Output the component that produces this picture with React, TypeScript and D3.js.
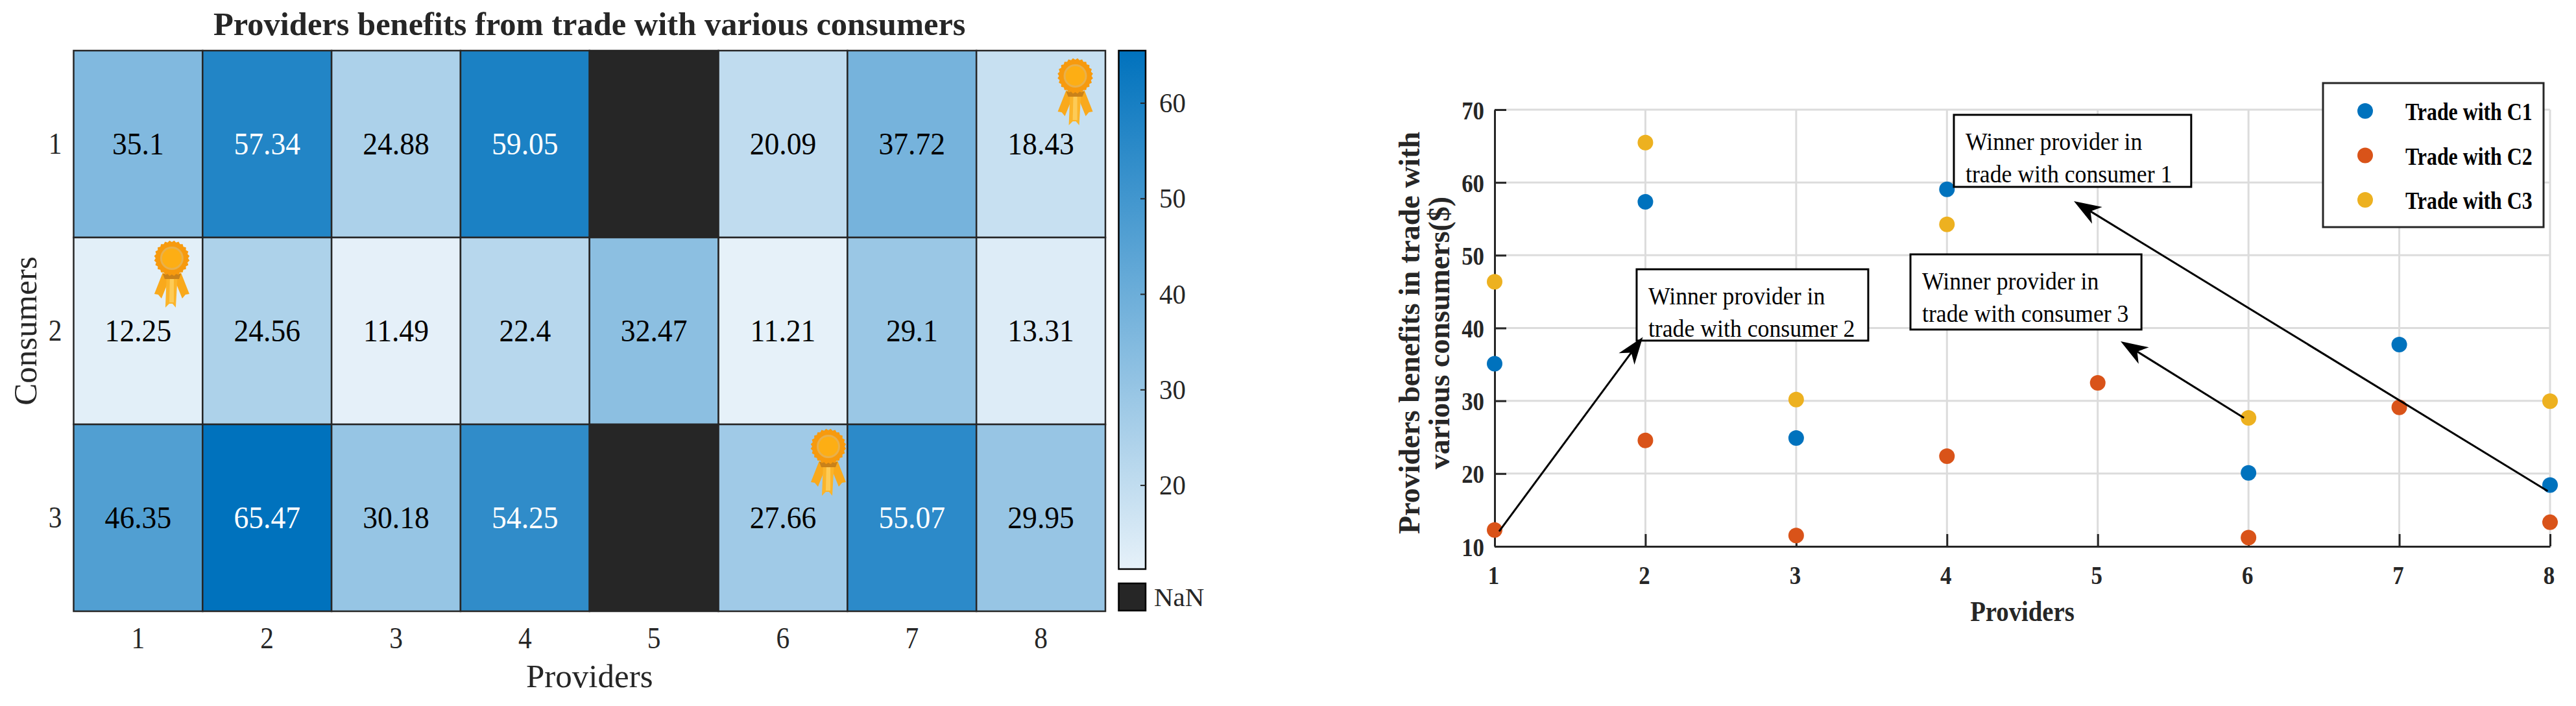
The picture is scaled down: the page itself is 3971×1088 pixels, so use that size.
import React, { useEffect, useRef } from 'react';
import * as d3 from 'd3';

const providers = [1, 2, 3, 4, 5, 6, 7, 8];
const consumers = [1, 2, 3];

const tradeC1 = [35.1, 57.34, 24.88, 59.05, NaN, 20.09, 37.72, 18.43];
const tradeC2 = [12.25, 24.56, 11.49, 22.4, 32.47, 11.21, 29.1, 13.31];
const tradeC3 = [46.35, 65.47, 30.18, 54.25, NaN, 27.66, 55.07, 29.95];
const seriesValues = [tradeC1, tradeC2, tradeC3];

const seriesNames = ['Trade with C1', 'Trade with C2', 'Trade with C3'];
const seriesColors = ['#0072BD', '#D95319', '#EDB120'];

const colorbarTicks = [20, 30, 40, 50, 60];
const scatterYTicks = [10, 20, 30, 40, 50, 60, 70];

const winnerCells = [
  { provider: 8, consumer: 1 },
  { provider: 1, consumer: 2 },
  { provider: 6, consumer: 3 },
];

const winnerNotes = [
  { lines: ['Winner provider in', 'trade with consumer 2'], x0: 1.942, x1: 3.478, y0: 48.07, y1: 38.27 },
  { lines: ['Winner provider in', 'trade with consumer 3'], x0: 3.758, x1: 5.29, y0: 50.12, y1: 39.79 },
  { lines: ['Winner provider in', 'trade with consumer 1'], x0: 4.046, x1: 5.62, y0: 69.29, y1: 59.39 },
];

const winnerArrows = [
  { from: [1.03, 12.07], to: [1.983, 38.76] },
  { from: [5.97, 27.66], to: [5.152, 38.18] },
  { from: [7.984, 17.6], to: [4.842, 57.43] },
];

const FONT = '"Liberation Serif", "Times New Roman", serif';
const DARK = '#262626';

// the reference text is a bit narrower than the font, so squeeze it sideways
const squeeze = (sel: any, factor: number) => {
  sel.each(function (this: SVGTextElement) {
    this.setAttribute('textLength', String(this.getComputedTextLength() * factor));
    this.setAttribute('lengthAdjust', 'spacingAndGlyphs');
  });
};

const App: React.FC = () => {
  const svgRef = useRef<SVGSVGElement | null>(null);

  useEffect(() => {
    const svg = d3.select(svgRef.current);
    svg.selectAll('*').remove();
    svg.attr('font-family', FONT);

    // ---------- heatmap ----------
    const hm = { left: 113.5, right: 1704, top: 78, bottom: 942 };
    const x = d3.scaleBand<number>().domain(providers).range([hm.left, hm.right]);
    const y = d3.scaleBand<number>().domain(consumers).range([hm.top, hm.bottom]);
    const color = d3.scaleLinear<string>().domain([11.21, 65.47]).range(['#E6F1F9', '#0072BD']);

    const heat = svg.append('g');
    const cells = consumers.flatMap((c, i) =>
      providers.map((p, j) => ({ p, c, v: seriesValues[i][j] }))
    );

    heat
      .selectAll('rect')
      .data(cells)
      .join('rect')
      .attr('x', (d) => x(d.p)!)
      .attr('y', (d) => y(d.c)!)
      .attr('width', x.bandwidth())
      .attr('height', y.bandwidth())
      .attr('fill', (d) => (isNaN(d.v) ? DARK : color(d.v)))
      .attr('stroke', DARK)
      .attr('stroke-width', 2.5);

    const cellText = heat
      .selectAll('text')
      .data(cells.filter((d) => !isNaN(d.v)))
      .join('text')
      .attr('x', (d) => x(d.p)! + x.bandwidth() / 2)
      .attr('y', (d) => y(d.c)! + y.bandwidth() / 2 + 16)
      .attr('text-anchor', 'middle')
      .attr('font-size', 48)
      .attr('fill', (d) => (d.v > 50 ? '#fff' : '#000'))
      .text((d) => String(d.v));
    squeeze(cellText, 0.95);

    const hmXAxis = svg
      .append('g')
      .attr('transform', `translate(0,${hm.bottom})`)
      .call(d3.axisBottom(x).tickSize(0));
    hmXAxis.select('.domain').remove();
    hmXAxis
      .selectAll('text')
      .attr('y', 57)
      .attr('dy', 0)
      .attr('font-size', 46)
      .attr('font-family', FONT)
      .attr('fill', DARK);
    squeeze(hmXAxis.selectAll('text'), 0.9);

    const hmYAxis = svg
      .append('g')
      .attr('transform', `translate(${hm.left},0)`)
      .call(d3.axisLeft(y).tickSize(0).tickPadding(18));
    hmYAxis.select('.domain').remove();
    hmYAxis
      .selectAll('text')
      .attr('dy', 15)
      .attr('font-size', 46)
      .attr('font-family', FONT)
      .attr('fill', DARK);
    squeeze(hmYAxis.selectAll('text'), 0.9);

    svg
      .append('text')
      .attr('x', (hm.left + hm.right) / 2)
      .attr('y', 54)
      .attr('text-anchor', 'middle')
      .attr('font-size', 50.5)
      .attr('font-weight', 'bold')
      .attr('fill', DARK)
      .text('Providers benefits from trade with various consumers');

    svg
      .append('text')
      .attr('x', (hm.left + hm.right) / 2)
      .attr('y', 1059)
      .attr('text-anchor', 'middle')
      .attr('font-size', 51)
      .attr('fill', DARK)
      .text('Providers');

    svg
      .append('text')
      .attr('transform', `translate(56,${(hm.top + hm.bottom) / 2}) rotate(-90)`)
      .attr('text-anchor', 'middle')
      .attr('font-size', 51)
      .attr('fill', DARK)
      .text('Consumers');

    // medals sit in the upper right part of the winning cell
    const medalOffsets = [
      [53, 39],
      [52, 32],
      [70, 34],
    ];
    const scallop = d3
      .lineRadial<number>()
      .angle((d) => (d / 48) * 2 * Math.PI)
      .radius((d) => (d % 2 ? 27.5 : 25))
      .curve(d3.curveLinearClosed);

    winnerCells.forEach((w, i) => {
      const mx = x(w.provider)! + x.bandwidth() / 2 + medalOffsets[i][0];
      const my = y(w.consumer)! + medalOffsets[i][1];
      const m = svg.append('g').attr('transform', `translate(${mx},${my})`);
      m.append('path').attr('d', 'M-14,22 L-27,55 L-21,56 L-16,62 L-3,30 Z').attr('fill', '#F9A91C');
      m.append('path').attr('d', 'M14,22 L27,55 L21,56 L16,62 L3,30 Z').attr('fill', '#F9A91C');
      m.append('path').attr('d', 'M-8,24 L-10,76 L-4,70 L1,70 L6,76 L9,24 Z').attr('fill', '#FBB42A');
      m.append('path').attr('d', 'M-3,30 L-4,68 L3,68 L3,30 Z').attr('fill', '#FDCB57');
      m.append('path').attr('d', 'M-14,24 L14,24 L11,32 L-11,32 Z').attr('fill', '#C9821A');
      m.append('path').attr('d', scallop(d3.range(48))!).attr('fill', '#F79A0E');
      m.append('circle').attr('r', 18).attr('fill', '#E9B04A');
      m.append('circle').attr('r', 15).attr('fill', '#FDAE14');
    });

    // ---------- colorbar ----------
    const cb = { left: 1724.5, right: 1766, top: 78, bottom: 877 };
    const cbScale = d3.scaleLinear().domain([11.21, 65.47]).range([cb.bottom, cb.top]);

    const grad = svg
      .append('defs')
      .append('linearGradient')
      .attr('id', 'cbGrad')
      .attr('x1', 0)
      .attr('x2', 0)
      .attr('y1', 1)
      .attr('y2', 0);
    grad.append('stop').attr('offset', 0).attr('stop-color', color(11.21));
    grad.append('stop').attr('offset', 1).attr('stop-color', color(65.47));

    svg
      .append('rect')
      .attr('x', cb.left)
      .attr('y', cb.top)
      .attr('width', cb.right - cb.left)
      .attr('height', cb.bottom - cb.top)
      .attr('fill', 'url(#cbGrad)')
      .attr('stroke', '#000')
      .attr('stroke-width', 2.5);

    const cbAxis = svg
      .append('g')
      .attr('transform', `translate(${cb.right},0)`)
      .call(d3.axisRight(cbScale).tickValues(colorbarTicks).tickSize(-8).tickPadding(21));
    cbAxis.select('.domain').remove();
    cbAxis.selectAll('line').attr('stroke', DARK).attr('stroke-width', 2);
    cbAxis
      .selectAll('text')
      .attr('dy', 14)
      .attr('font-size', 43)
      .attr('font-family', FONT)
      .attr('fill', DARK);
    squeeze(cbAxis.selectAll('text'), 0.95);

    svg
      .append('rect')
      .attr('x', cb.left)
      .attr('y', 899)
      .attr('width', cb.right - cb.left)
      .attr('height', 42)
      .attr('fill', DARK)
      .attr('stroke', '#000')
      .attr('stroke-width', 2.5);
    svg
      .append('text')
      .attr('x', 1779)
      .attr('y', 934)
      .attr('font-size', 41)
      .attr('fill', DARK)
      .text('NaN');

    // ---------- scatter ----------
    const sc = { left: 2304, right: 3931, top: 169, bottom: 842 };
    const sx = d3.scaleLinear().domain([1, 8]).range([sc.left, sc.right]);
    const sy = d3.scaleLinear().domain([10, 70]).range([sc.bottom, sc.top]);

    const grid = svg.append('g').attr('stroke', '#DCDCDC').attr('stroke-width', 3);
    grid
      .selectAll('line.v')
      .data(providers.slice(1))
      .join('line')
      .attr('class', 'v')
      .attr('x1', (d) => sx(d))
      .attr('x2', (d) => sx(d))
      .attr('y1', sc.top)
      .attr('y2', sc.bottom);
    grid
      .selectAll('line.h')
      .data(scatterYTicks.slice(1))
      .join('line')
      .attr('class', 'h')
      .attr('x1', sc.left)
      .attr('x2', sc.right)
      .attr('y1', (d) => sy(d))
      .attr('y2', (d) => sy(d));

    const sxAxis = svg
      .append('g')
      .attr('transform', `translate(0,${sc.bottom})`)
      .call(d3.axisBottom(sx).tickValues(providers).tickFormat(d3.format('d')).tickSize(-19).tickSizeOuter(0));
    const syAxis = svg
      .append('g')
      .attr('transform', `translate(${sc.left},0)`)
      .call(d3.axisLeft(sy).tickValues(scatterYTicks).tickFormat(d3.format('d')).tickSize(-18).tickSizeOuter(0));

    [sxAxis, syAxis].forEach((a) => {
      a.select('.domain').attr('stroke', DARK).attr('stroke-width', 3);
      a.selectAll('line').attr('stroke', DARK).attr('stroke-width', 3);
      a.selectAll('text')
        .attr('font-size', 41)
        .attr('font-weight', 'bold')
        .attr('font-family', FONT)
        .attr('fill', DARK);
      squeeze(a.selectAll('text'), 0.85);
    });
    sxAxis.selectAll('text').attr('y', 58).attr('dy', 0).attr('dx', -2);
    syAxis.selectAll('text').attr('x', -16).attr('dy', 14);

    const sxLabel = svg
      .append('text')
      .attr('x', (sc.left + sc.right) / 2)
      .attr('y', 957)
      .attr('text-anchor', 'middle')
      .attr('font-size', 44)
      .attr('font-weight', 'bold')
      .attr('fill', DARK)
      .text('Providers');
    squeeze(sxLabel, 0.88);

    const yLabel = svg
      .append('text')
      .attr('transform', 'translate(2188,513) rotate(-90)')
      .attr('text-anchor', 'middle')
      .attr('font-size', 46)
      .attr('font-weight', 'bold')
      .attr('fill', DARK);
    yLabel.append('tspan').attr('x', 0).attr('y', 0).text('Providers benefits in trade with');
    yLabel.append('tspan').attr('x', 0).attr('y', 46).text('various consumers($)');

    seriesValues.forEach((vals, i) => {
      svg
        .append('g')
        .selectAll('circle')
        .data(vals.map((v, j) => ({ p: providers[j], v })).filter((d) => !isNaN(d.v)))
        .join('circle')
        .attr('cx', (d) => sx(d.p))
        .attr('cy', (d) => sy(d.v))
        .attr('r', 12)
        .attr('fill', seriesColors[i]);
    });

    // annotation boxes
    winnerNotes.forEach((n) => {
      const g = svg.append('g');
      g.append('rect')
        .attr('x', sx(n.x0))
        .attr('y', sy(n.y0))
        .attr('width', sx(n.x1) - sx(n.x0))
        .attr('height', sy(n.y1) - sy(n.y0))
        .attr('fill', '#fff')
        .attr('stroke', '#000')
        .attr('stroke-width', 3);
      n.lines.forEach((line, k) => {
        const t = g
          .append('text')
          .attr('x', sx(n.x0) + 18)
          .attr('y', sy(n.y0) + 54 + k * 50)
          .attr('font-size', 38)
          .attr('fill', '#000')
          .text(line);
        squeeze(t, 0.94);
      });
    });

    // arrows
    winnerArrows.forEach((a) => {
      const x1 = sx(a.from[0]);
      const y1 = sy(a.from[1]);
      const x2 = sx(a.to[0]);
      const y2 = sy(a.to[1]);
      const len = Math.hypot(x2 - x1, y2 - y1);
      const ux = (x2 - x1) / len;
      const uy = (y2 - y1) / len;
      const pt = (back: number, side: number) =>
        `${x2 - ux * back - uy * side},${y2 - uy * back + ux * side}`;
      svg
        .append('line')
        .attr('x1', x1)
        .attr('y1', y1)
        .attr('x2', x2 - ux * 28)
        .attr('y2', y2 - uy * 28)
        .attr('stroke', '#000')
        .attr('stroke-width', 3);
      svg
        .append('polygon')
        .attr('points', [pt(0, 0), pt(42, 15), pt(30, 0), pt(42, -15)].join(' '))
        .attr('fill', '#000');
    });

    // legend
    const legend = svg.append('g');
    legend
      .append('rect')
      .attr('x', 3581)
      .attr('y', 128)
      .attr('width', 340)
      .attr('height', 222)
      .attr('fill', '#fff')
      .attr('stroke', DARK)
      .attr('stroke-width', 3);
    seriesNames.forEach((name, i) => {
      const ly = 171 + i * 68.5;
      legend.append('circle').attr('cx', 3646).attr('cy', ly).attr('r', 12).attr('fill', seriesColors[i]);
      const t = legend
        .append('text')
        .attr('x', 3708)
        .attr('y', ly + 14)
        .attr('font-size', 37)
        .attr('font-weight', 'bold')
        .attr('fill', '#000')
        .text(name);
      squeeze(t, 0.86);
    });
  }, []);

  return (
    <svg
      ref={svgRef}
      width={3971}
      height={1088}
      style={{ position: 'absolute', left: 0, top: 0, background: '#fff' }}
    />
  );
};

export default App;
